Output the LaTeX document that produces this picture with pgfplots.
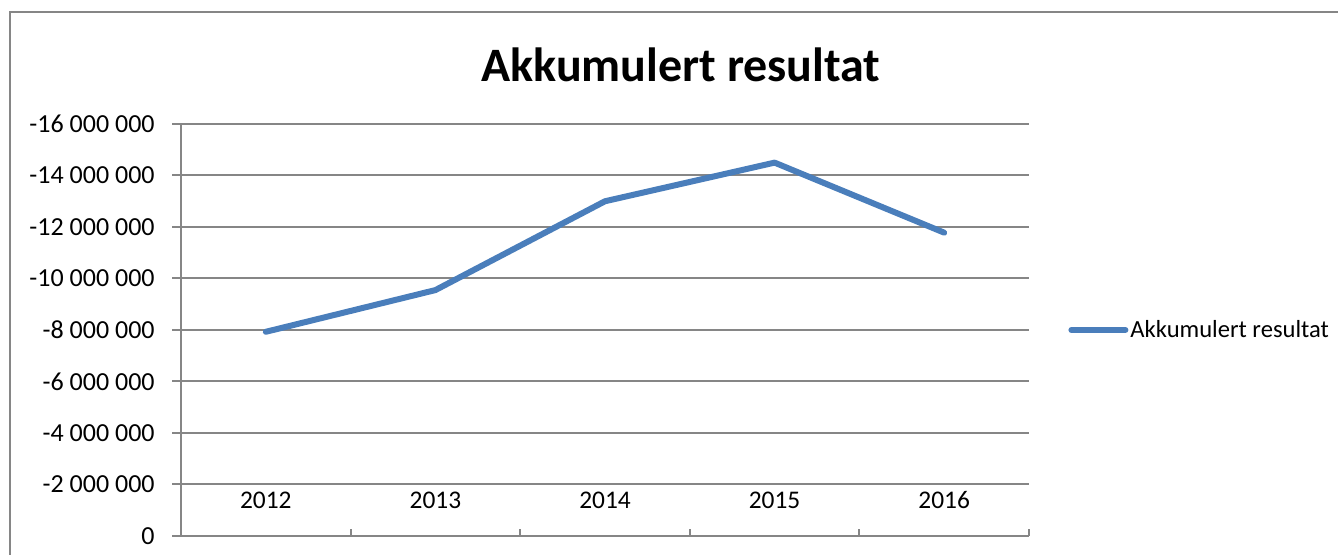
\documentclass[border=0pt]{standalone}
\usepackage{pgfplots}
\pgfplotsset{compat=1.18}
\usepackage{fontspec}
\setmainfont{Carlito}
\definecolor{gridgray}{RGB}{134,134,134}
\definecolor{lineblue}{RGB}{74,126,187}
\begin{document}
\begin{tikzpicture}
\path[use as bounding box] (0pt,0pt) rectangle (669pt,277.5pt);
\draw[gridgray, line width=1.2pt] (5pt,-5pt) -- (5pt,271.5pt) -- (680pt,271.5pt);
\node[anchor=base, font=\fontsize{24}{28}\selectfont\bfseries, inner sep=0pt] at (340.5pt,236.5pt) {Akkumulert resultat};
\begin{axis}[
  at={(90.5pt,9.5pt)}, anchor=south west,
  scale only axis, width=424pt, height=206pt,
  xmin=-0.5, xmax=4.5, ymin=-16000000, ymax=0, y dir=reverse,
  axis x line=none, axis y line*=left,
  xtick=\empty,
  ytick={-16000000,-14000000,-12000000,-10000000,-8000000,-6000000,-4000000,-2000000,0},
  yticklabels={-16 000 000,-14 000 000,-12 000 000,-10 000 000,-8 000 000,-6 000 000,-4 000 000,-2 000 000,0},
  scaled y ticks=false,
  ymajorgrids, grid style={gridgray, line width=1pt},
  axis line style={gridgray, line width=1pt},
  tick style={gridgray, line width=1pt},
  tick align=outside, major tick length=4.5pt,
  yticklabel style={font=\fontsize{13}{15}\selectfont, anchor=east, inner sep=0pt, xshift=-8.5pt},
  clip=false,
  legend style={at={(1.046,0.5)}, anchor=west, draw=none, fill=none, inner sep=0pt,
    nodes={inner sep=1pt},
    font=\fontsize{12.3}{14}\selectfont, legend cell align=left},
  legend image code/.code={\draw[#1] (0pt,0pt) -- (27pt,0pt);},
]
\addplot[lineblue, line width=3pt, line cap=round, line join=round]
  coordinates {(0,-7930000) (1,-9550000) (2,-13000000) (3,-14500000) (4,-11780000)};
\addlegendentry{Akkumulert resultat}
\draw[gridgray, line width=1pt] (axis cs:-0.5,0) -- ++(0pt,3.5pt);
\draw[gridgray, line width=1pt] (axis cs:0.5,0) -- ++(0pt,3.5pt);
\draw[gridgray, line width=1pt] (axis cs:1.5,0) -- ++(0pt,3.5pt);
\draw[gridgray, line width=1pt] (axis cs:2.5,0) -- ++(0pt,3.5pt);
\draw[gridgray, line width=1pt] (axis cs:3.5,0) -- ++(0pt,3.5pt);
\draw[gridgray, line width=1pt] (axis cs:4.5,0) -- ++(0pt,3.5pt);
\node[font=\fontsize{12.7}{15}\selectfont] at (axis cs:0,-1400000) {2012};
\node[font=\fontsize{12.7}{15}\selectfont] at (axis cs:1,-1400000) {2013};
\node[font=\fontsize{12.7}{15}\selectfont] at (axis cs:2,-1400000) {2014};
\node[font=\fontsize{12.7}{15}\selectfont] at (axis cs:3,-1400000) {2015};
\node[font=\fontsize{12.7}{15}\selectfont] at (axis cs:4,-1400000) {2016};
\end{axis}
\end{tikzpicture}
\end{document}
